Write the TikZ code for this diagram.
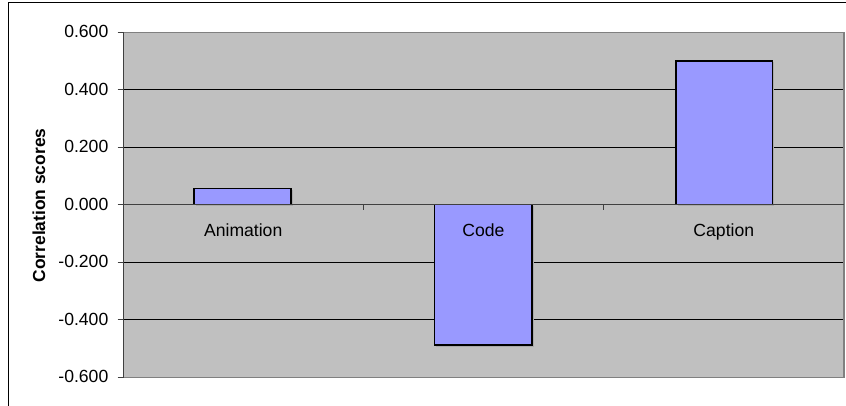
\documentclass[tikz,border=0pt]{standalone}
\usepackage{fontspec}
\setmainfont{Liberation Sans}
\definecolor{plotgray}{HTML}{C0C0C0}
\definecolor{bordergray}{HTML}{808080}
\definecolor{barblue}{HTML}{9999FF}
\definecolor{shadowgray}{HTML}{AAAAAA}
\begin{document}
\begin{tikzpicture}[x=1pt,y=-1pt,
  ticklabel/.style={anchor=base east,font=\fontsize{17.6}{20}\selectfont,inner sep=0pt},
  catlabel/.style={anchor=base,font=\fontsize{17.6}{20}\selectfont,inner sep=0pt},
  axistitle/.style={rotate=90,font=\fontsize{17.4}{20}\selectfont\bfseries,inner sep=0pt},
  grid/.style={black,line width=1pt},
  axisline/.style={black!75,line width=1pt},
  bar/.style={fill=barblue,draw=black,line width=1.3pt},
  barshadow/.style={fill=shadowgray}]
\useasboundingbox (0,0) rectangle (846,406);
\fill[white] (0,0) rectangle (846,406);
% outer frame
\draw[black,line width=1.6pt] (8.5,2.5) -- (846,2.5);
\draw[black,line width=1.6pt] (8.5,2.5) -- (8.5,410);
% plot area
\fill[plotgray] (123.5,32.5) rectangle (844,377.5);
% grid lines
\foreach \v in {0.4,0.2,-0.2,-0.4}{
  \draw[grid] (123.5,{204.8-\v*287.5}) -- (844,{204.8-\v*287.5});
}
\draw[bordergray,line width=1.3pt] (123.5,32.5) rectangle (844,377.5);
% vertical axis and ticks
\draw[axisline] (123.5,32.5) -- (123.5,377.5);
\foreach \v in {0.6,0.4,0.2,0,-0.2,-0.4,-0.6}{
  \draw[axisline] (117.5,{204.8-\v*287.5}) -- (123.5,{204.8-\v*287.5});
}
% bars with shadows
\fill[barshadow] (195.5,189.8) rectangle (292.5,206.3);
\fill[barshadow] (436,206.3) rectangle (533.5,346.5);
\fill[barshadow] (677.5,62.5) rectangle (774,206.3);
\draw[bar] (194,188.3) rectangle (291,204.8);
\draw[bar] (434.5,204.8) rectangle (532,345);
\draw[bar] (676,61) rectangle (772.5,204.8);
% zero axis with category ticks
\draw[axisline] (123.5,204.8) -- (844,204.8);
\draw[axisline] (363.5,204.8) -- (363.5,210.5);
\draw[axisline] (603.8,204.8) -- (603.8,210.5);
% tick labels
\node[ticklabel] (l6) at (108.5,37.9) {0.600};
\node[ticklabel] (l4) at (108.5,95.4) {0.400};
\node[ticklabel] (l2) at (108.5,152.9) {0.200};
\node[ticklabel] (l0) at (108.5,210.4) {0.000};
\node[ticklabel] (m2) at (108.5,267.9) {-0.200};
\node[ticklabel] (m4) at (108.5,325.4) {-0.400};
\node[ticklabel] (m6) at (108.5,382.9) {-0.600};
% category labels
\node[catlabel] (anim) at (243.2,236.7) {Animation};
\node[catlabel] (code) at (483.5,236.7) {Code};
\node[catlabel] (capt) at (723.8,236.7) {Caption};
% axis title
\node[axistitle] (ytitle) at (39,205.5) {Correlation scores};
\end{tikzpicture}
\end{document}
